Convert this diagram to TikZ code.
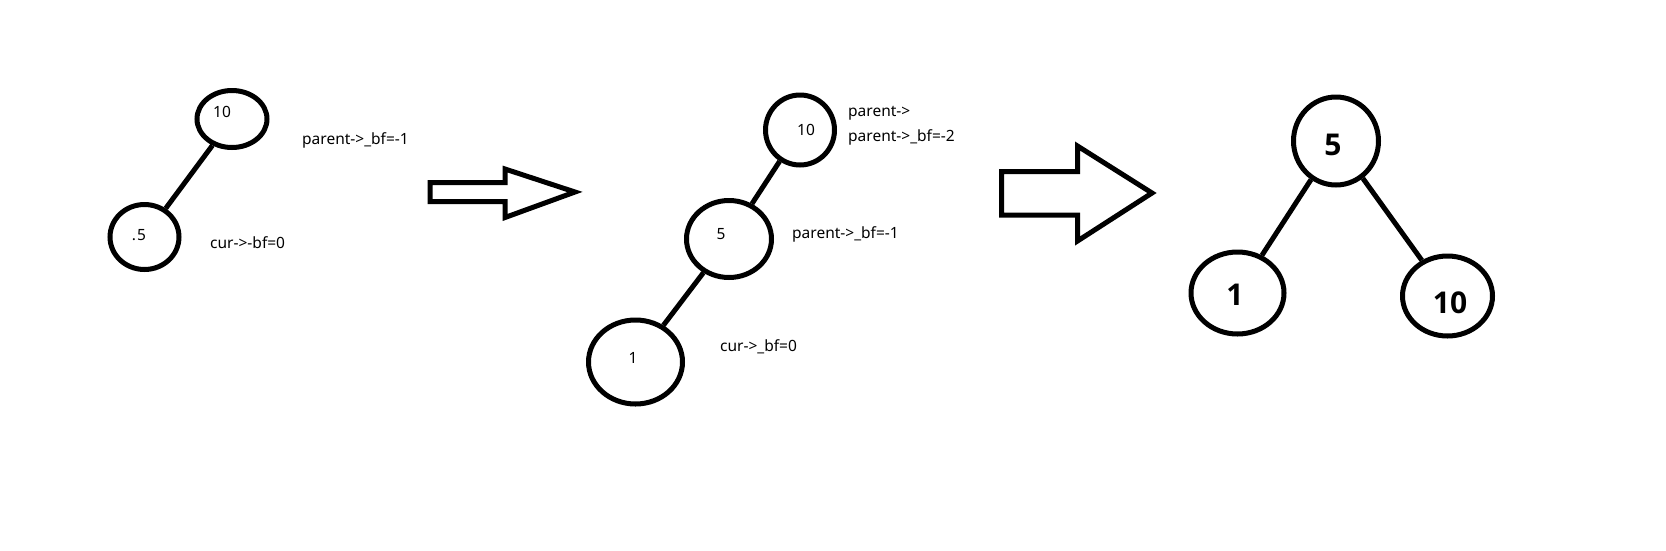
\documentclass[tikz,border=0pt]{standalone}
\usepackage{fontspec}
\setmainfont{Noto Sans}
\newfontfamily\bigfont{Open Sans}
\usetikzlibrary{shapes.geometric}
\begin{document}
\begin{tikzpicture}[x=1pt,y=-1pt,
  tnode/.style={ellipse,draw,line width=5pt,inner sep=0pt,minimum width=#1},
  edge/.style={line width=5pt},
  fatarrow/.style={line width=5pt,line join=miter},
  lbl/.style={inner sep=0pt,font=\fontsize{15.5}{18}\selectfont},
  big/.style={inner sep=0pt,font=\fontsize{30}{34}\bigfont\bfseries}]
\useasboundingbox (0,0) rectangle (1666,550);
% stage 1
\node[tnode=70pt,minimum height=57pt] (a10) at (232,119) {};
\node[tnode=69pt,minimum height=65pt] (a5) at (144.5,237) {};
\draw[edge] (a10) -- (a5);
\node[lbl] (ta10) at (222,112) {10};
\node[lbl] (ta5) at (139,235) {.\hspace{1pt}5};
\node[lbl,anchor=west] (pa1) at (302,140) {parent->\_bf=-1};
\node[lbl,anchor=west] (ca1) at (210,243) {cur->-bf=0};
% arrow 1
\draw[fatarrow] (430,182.5) -- (505,182.5) -- (505,169) -- (575,192) -- (505,217.5) -- (505,201.5) -- (430,201.5) -- cycle;
% stage 2
\node[tnode=69pt,minimum height=70pt] (b10) at (800,130) {};
\node[tnode=85pt,minimum height=77pt] (b5) at (729,239) {};
\node[tnode=94pt,minimum height=84pt] (b1) at (635.5,362) {};
\draw[edge] (b10) -- (b5);
\draw[edge] (b5) -- (b1);
\node[lbl] (tb10) at (806,130) {10};
\node[lbl] (tb5) at (721,234) {5};
\node[lbl] (tb1) at (633,358) {1};
\node[lbl,anchor=west] (pb0) at (848,113) {parent->};
\node[lbl,anchor=west] (pb2) at (848,137) {parent->\_bf=-2};
\node[lbl,anchor=west] (pb1) at (792,234) {parent->\_bf=-1};
\node[lbl,anchor=west] (cb0) at (720,347) {cur->\_bf=0};
% arrow 2
\draw[fatarrow] (1001.5,171.5) -- (1077.5,171.5) -- (1077.5,146) -- (1152,193) -- (1077.5,241) -- (1077.5,215) -- (1001.5,215) -- cycle;
% stage 3
\node[tnode=85pt,minimum height=88pt] (c5) at (1336,141) {};
\node[tnode=93pt,minimum height=82pt] (c1) at (1237.5,293) {};
\node[tnode=90pt,minimum height=80pt] (c10) at (1447.5,296) {};
\draw[edge] (c5) -- (c1);
\draw[edge] (c5) -- (c10);
\node[big] (tc5) at (1333,145) {5};
\node[big] (tc1) at (1235,295) {1};
\node[big] (tc10) at (1450,303) {10};
\end{tikzpicture}
\end{document}
